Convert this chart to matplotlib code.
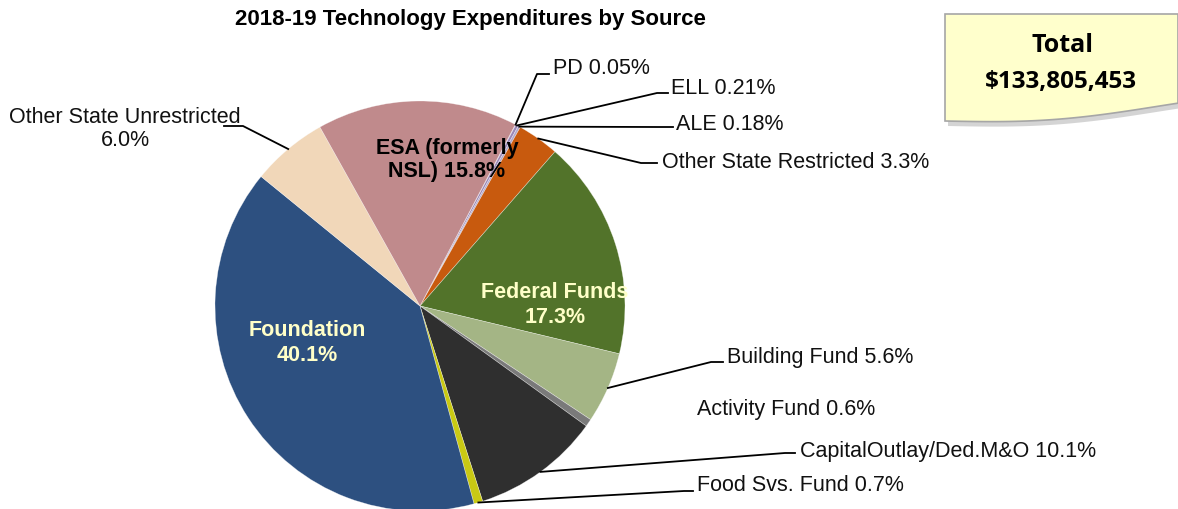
import numpy as np
import matplotlib
matplotlib.use("Agg")
from matplotlib import pyplot as plt
from matplotlib.patches import Polygon

plt.rcParams["font.family"] = ["Liberation Sans", "DejaVu Sans"]

# Slices in clockwise order, starting from the top (PD)
sources = [
    "PD", "ELL", "ALE", "Other State Restricted", "Federal Funds",
    "Building Fund", "Activity Fund", "CapitalOutlay/Ded.M&O",
    "Food Svs. Fund", "Foundation", "Other State Unrestricted", "ESA (formerly NSL)",
]
shares = [0.05, 0.21, 0.18, 3.3, 17.3, 5.6, 0.6, 10.1, 0.7, 40.1, 6.0, 15.8]
share_text = ["0.05%", "0.21%", "0.18%", "3.3%", "17.3%", "5.6%", "0.6%",
              "10.1%", "0.7%", "40.1%", "6.0%", "15.8%"]
colors = ["#c4b6dc", "#9b87b5", "#b0a8cc", "#c85a0e", "#52732a", "#a4b585",
          "#7a7a7a", "#2f2f2f", "#c9c914", "#2d5080", "#f1d7b9", "#c08a8c"]
total_text = "$133,805,453"
title = "2018-19 Technology Expenditures by Source"

W, H = 1178, 510
START = 62.3
CX, CY, R = 420, H - 307, 205


def py(y):
    # pixel row from top -> data y
    return H - y


fig = plt.figure(figsize=(W / 100, H / 100), dpi=100)
ax = fig.add_axes([0, 0, 1, 1])
ax.pie(shares, startangle=START, counterclock=False, colors=colors,
       center=(CX, CY), radius=R, wedgeprops=dict(linewidth=0.4, edgecolor="#ffffff80"))
ax.set_xlim(0, W)
ax.set_ylim(0, H)
ax.set_aspect("equal")
ax.axis("off")

# mid angle of each wedge
cum = np.cumsum([0] + shares[:-1])
total = sum(shares)
mids = [START - (c + s / 2) / total * 360 for c, s in zip(cum, shares)]


def edge(i, k=1.0):
    a = np.radians(mids[i])
    return CX + R * k * np.cos(a), CY + R * k * np.sin(a)


fs = 15.5
# outside labels: (index, text x, text y, elbow x, elbow y, end x)
outside = [
    (0, 553, 68, 537, 75, 549),
    (1, 671, 88, 657, 94, 668),
    (2, 676, 124, 657, 128, 673),
    (3, 662, 163, 641, 164, 657),
    (5, 727, 358, 711, 363, 723),
    (7, 800, 452, 785, 454, 795),
    (8, 697, 486, 684, 492, 693),
]
for i, tx, ty, ex, ey, hx in outside:
    ax.text(tx, py(ty), f"{sources[i]} {share_text[i]}", fontsize=fs,
            ha="left", va="center", color="#111111")
    x0, y0 = edge(i, 1.0)
    ax.plot([x0, ex, hx], [y0, py(ey), py(ey)], color="black", lw=1.3)

# Activity fund label has no leader line
ax.text(697, py(410), f"{sources[6]} {share_text[6]}", fontsize=fs,
        ha="left", va="center", color="#111111")

# Other State Unrestricted (two lines, left side)
ax.text(125, py(129), f"{sources[10]}\n{share_text[10]}", fontsize=fs,
        ha="center", va="center", color="#111111", linespacing=1.15)
x0, y0 = edge(10, 1.0)
ax.plot([x0, 243, 224], [y0, py(127), py(127)], color="black", lw=1.3)

# inside labels
ax.text(447, py(160), "ESA (formerly\nNSL) " + share_text[11], fontsize=15.5,
        fontweight="bold", ha="center", va="center", color="black", linespacing=1.1)
ax.text(555, py(305), "Federal Funds\n" + share_text[4], fontsize=15.5,
        fontweight="bold", ha="center", va="center", color="#ffffc8", linespacing=1.25)
ax.text(307, py(343), "Foundation\n" + share_text[9], fontsize=15.5,
        fontweight="bold", ha="center", va="center", color="#ffffc8", linespacing=1.25)

ax.text(470, py(19), title, fontsize=16, fontweight="bold", ha="center", va="center")

# Total callout with wavy bottom
xs = np.linspace(945, 1178, 60)
t = (xs - 945) / (1178 - 945)
wave = 122 + 6 * np.sin(t * np.pi * 1.1) - 16 * t
shadow = Polygon(list(zip(xs + 3, py(wave + 5))) + [(1178, py(18)), (948, py(18))],
                 closed=True, facecolor="#b8b8b8", edgecolor="none", alpha=0.6)
ax.add_patch(shadow)
box = Polygon([(945, py(15)), (1178, py(15))] + list(zip(xs[::-1], py(wave[::-1]))),
              closed=True, facecolor="#ffffcc", edgecolor="#a6a6a6", lw=1.2)
ax.add_patch(box)
ax.text(1063, py(45), "Total", fontsize=18, fontweight="bold", ha="center",
        va="center", family=["Open Sans", "DejaVu Sans"])
ax.text(1061, py(82), total_text, fontsize=17.5, fontweight="bold", ha="center",
        va="center", family=["Open Sans", "DejaVu Sans"])

fig.savefig("out.png", dpi=100)
